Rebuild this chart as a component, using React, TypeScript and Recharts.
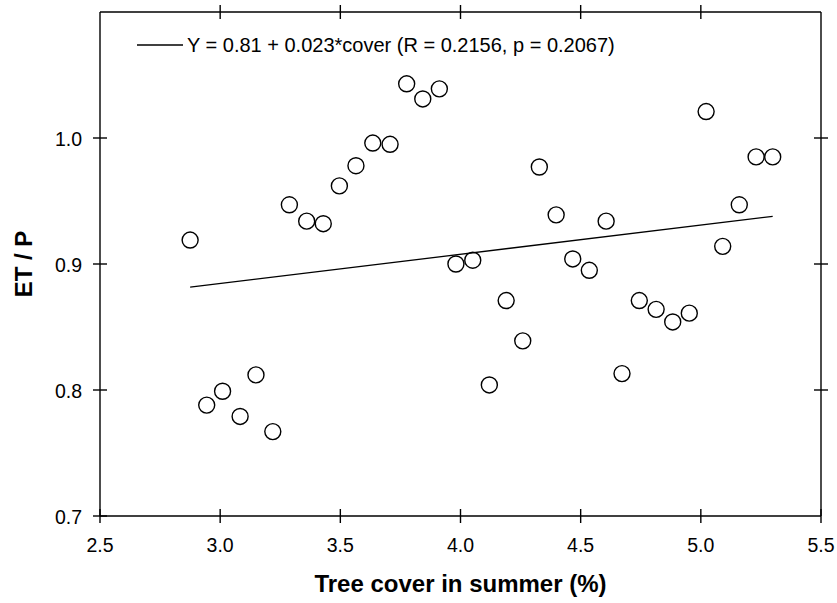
import React from "react";
import { ScatterChart, Scatter, XAxis, YAxis } from "recharts";

// Tree cover (%) in summer and the ratio ET / P for each site
const cover = [
  2.875, 2.944, 3.01, 3.083, 3.149, 3.219, 3.288, 3.36, 3.429, 3.496, 3.565, 3.635,
  3.707, 3.776, 3.843, 3.912, 3.981, 4.051, 4.12, 4.19, 4.259, 4.328, 4.398, 4.467,
  4.536, 4.606, 4.672, 4.744, 4.814, 4.883, 4.952, 5.022, 5.091, 5.16, 5.23, 5.299,
];
const etOverP = [
  0.919, 0.788, 0.799, 0.779, 0.812, 0.767, 0.947, 0.934, 0.932, 0.962, 0.978, 0.996,
  0.995, 1.043, 1.031, 1.039, 0.9, 0.903, 0.804, 0.871, 0.839, 0.977, 0.939, 0.904,
  0.895, 0.934, 0.813, 0.871, 0.864, 0.854, 0.861, 1.021, 0.914, 0.947, 0.985, 0.985,
];

// Linear fit: Y = a + b * cover
const fitIntercept = 0.8149;
const fitSlope = 0.0232;
const fitRange = [2.875, 5.299];

const xTicks = [2.5, 3.0, 3.5, 4.0, 4.5, 5.0, 5.5];
const xTopTicks = [3.0, 3.5, 4.0, 4.5, 5.0];
const yTicks = [0.7, 0.8, 0.9, 1.0];
const yRightTicks = [0.8, 0.9, 1.0];

const legendText = "Y = 0.81 + 0.023*cover (R = 0.2156, p = 0.2067)";

const points = cover.map((x, i) => ({ x, y: etOverP[i] }));
const fitLine = fitRange.map((x) => ({ x, y: fitIntercept + fitSlope * x }));

const FONT = "'Liberation Sans', Arial, Helvetica, sans-serif";
const TICK = 7;
const STROKE = 1.4;
const TICK_FONT = 19.5;

const BottomTick = (props: any) => {
  const { x, y, payload } = props;
  return (
    <g>
      <line x1={x} x2={x} y1={y - TICK} y2={y + TICK} stroke="#000" strokeWidth={STROKE} />
      <text
        x={x}
        y={y + 29}
        textAnchor="middle"
        dominantBaseline="central"
        fontFamily={FONT}
        fontSize={TICK_FONT}
        fill="#000"
      >
        {Number(payload.value).toFixed(1)}
      </text>
    </g>
  );
};

const TopTick = (props: any) => {
  const { x, y } = props;
  return <line x1={x} x2={x} y1={y - TICK} y2={y + TICK} stroke="#000" strokeWidth={STROKE} />;
};

const LeftTick = (props: any) => {
  const { x, y, payload } = props;
  return (
    <g>
      <line x1={x - TICK} x2={x + TICK} y1={y} y2={y} stroke="#000" strokeWidth={STROKE} />
      <text
        x={x - 18}
        y={y + 1}
        textAnchor="end"
        dominantBaseline="central"
        fontFamily={FONT}
        fontSize={TICK_FONT}
        fill="#000"
      >
        {Number(payload.value).toFixed(1)}
      </text>
    </g>
  );
};

const RightTick = (props: any) => {
  const { x, y } = props;
  return <line x1={x - TICK} x2={x + TICK} y1={y} y2={y} stroke="#000" strokeWidth={STROKE} />;
};

const OpenCircle = (props: any) => (
  <circle cx={props.cx} cy={props.cy} r={8} fill="none" stroke="#000" strokeWidth={1.4} />
);

const NoMarker = () => <g />;

export default function App() {
  return (
    <div style={{ position: "absolute", left: 0, top: 0, width: 837, height: 603, background: "#fff" }}>
      <ScatterChart
        width={837}
        height={603}
        margin={{ top: 11, right: 15, bottom: 0, left: 0 }}
      >
        <XAxis
          xAxisId="bottom"
          type="number"
          dataKey="x"
          orientation="bottom"
          domain={[2.5, 5.5]}
          ticks={xTicks}
          allowDataOverflow
          height={87}
          tickSize={0}
          tickMargin={0}
          tickLine={false}
          axisLine={{ stroke: "#000", strokeWidth: STROKE }}
          tick={BottomTick}
          interval={0}
          label={{
            value: "Tree cover in summer (%)",
            position: "insideBottom",
            offset: 11,
            style: { fontFamily: FONT, fontSize: 24, fontWeight: "bold", fill: "#000" },
          }}
        />
        <XAxis
          xAxisId="top"
          type="number"
          dataKey="x"
          orientation="top"
          domain={[2.5, 5.5]}
          ticks={xTopTicks}
          allowDataOverflow
          height={1}
          tickSize={0}
          tickMargin={0}
          tickLine={false}
          axisLine={{ stroke: "#000", strokeWidth: STROKE }}
          tick={TopTick}
          interval={0}
        />
        <YAxis
          yAxisId="left"
          type="number"
          dataKey="y"
          domain={[0.7, 1.1]}
          ticks={yTicks}
          allowDataOverflow
          width={100}
          tickSize={0}
          tickMargin={0}
          tickLine={false}
          axisLine={{ stroke: "#000", strokeWidth: STROKE }}
          tick={LeftTick}
          interval={0}
          label={{
            value: "ET / P",
            angle: -90,
            position: "insideLeft",
            offset: 23,
            style: {
              fontFamily: FONT,
              fontSize: 24,
              fontWeight: "bold",
              fill: "#000",
              textAnchor: "middle",
            },
          }}
        />
        <YAxis
          yAxisId="right"
          type="number"
          dataKey="y"
          orientation="right"
          domain={[0.7, 1.1]}
          ticks={yRightTicks}
          allowDataOverflow
          width={1}
          tickSize={0}
          tickMargin={0}
          tickLine={false}
          axisLine={{ stroke: "#000", strokeWidth: STROKE }}
          tick={RightTick}
          interval={0}
        />
        <Scatter
          xAxisId="bottom"
          yAxisId="left"
          data={fitLine}
          line={{ stroke: "#000", strokeWidth: 1.3 }}
          lineType="joint"
          shape={NoMarker}
          isAnimationActive={false}
          legendType="none"
        />
        <Scatter
          xAxisId="bottom"
          yAxisId="left"
          data={points}
          shape={OpenCircle}
          isAnimationActive={false}
          legendType="none"
        />
        <Scatter
          xAxisId="top"
          yAxisId="right"
          data={points}
          shape={NoMarker}
          isAnimationActive={false}
          legendType="none"
        />
      </ScatterChart>
      <div
        style={{
          position: "absolute",
          left: 137,
          top: 33,
          height: 24,
          display: "flex",
          alignItems: "center",
          fontFamily: FONT,
          fontSize: 20,
          color: "#000",
          whiteSpace: "nowrap",
        }}
      >
        <svg width={47} height={24} style={{ display: "block" }}>
          <line x1={0} x2={46} y1={12} y2={12} stroke="#000" strokeWidth={1.3} />
        </svg>
        <span style={{ marginLeft: 3 }}>{legendText}</span>
      </div>
    </div>
  );
}
